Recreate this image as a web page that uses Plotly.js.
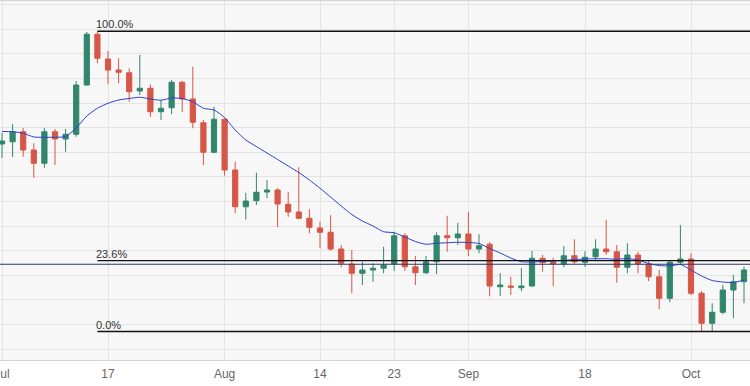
<!DOCTYPE html>
<html>
<head>
<meta charset="utf-8">
<script src="https://cdn.plot.ly/plotly-3.0.1.min.js"></script>
<style>html,body{margin:0;padding:0;background:#fff;}#chart{width:750px;height:386px;}</style>
</head>
<body>
<div id="chart"></div>
<script>
var dates = [
 "2023-07-03","2023-07-04","2023-07-05","2023-07-06","2023-07-07","2023-07-10","2023-07-11","2023-07-12","2023-07-13","2023-07-14",
 "2023-07-17","2023-07-18","2023-07-19","2023-07-20","2023-07-21","2023-07-24","2023-07-25","2023-07-26","2023-07-27","2023-07-28",
 "2023-07-31","2023-08-01","2023-08-02","2023-08-03","2023-08-04","2023-08-07","2023-08-08","2023-08-09","2023-08-10","2023-08-11",
 "2023-08-14","2023-08-15","2023-08-16","2023-08-17","2023-08-18","2023-08-21","2023-08-22","2023-08-23","2023-08-24","2023-08-25",
 "2023-08-28","2023-08-29","2023-08-30","2023-08-31","2023-09-01","2023-09-04","2023-09-05","2023-09-06","2023-09-07","2023-09-08",
 "2023-09-11","2023-09-12","2023-09-13","2023-09-14","2023-09-15","2023-09-18","2023-09-19","2023-09-20","2023-09-21","2023-09-22",
 "2023-09-25","2023-09-26","2023-09-27","2023-09-28","2023-09-29","2023-10-02","2023-10-03","2023-10-04","2023-10-05","2023-10-06",
 "2023-10-09"
];
var openP = [
 1.2820,1.2829,1.2869,1.2796,1.2743,1.2869,1.2840,1.2859,1.3056,1.3259,
 1.3160,1.3116,1.3105,1.3032,1.3043,1.2949,1.2965,1.3067,1.3000,1.2905,
 1.2787,1.2919,1.2716,1.2569,1.2593,1.2628,1.2636,1.2579,1.2548,1.2523,
 1.2484,1.2467,1.2400,1.2340,1.2303,1.2316,1.2323,1.2340,1.2453,1.2329,
 1.2305,1.2349,1.2453,1.2445,1.2460,1.2400,1.2419,1.2249,1.2252,1.2245,
 1.2252,1.2363,1.2349,1.2340,1.2373,1.2347,1.2369,1.2400,1.2389,1.2327,
 1.2376,1.2339,1.2289,1.2203,1.2347,1.2360,1.2223,1.2103,1.2147,1.2236,
 1.2269
];
var highP = [
 1.2864,1.2900,1.2884,1.2823,1.2885,1.2880,1.2880,1.3072,1.3268,1.3271,
 1.3192,1.3163,1.3123,1.3176,1.3059,1.2996,1.3076,1.3072,1.3129,1.2916,
 1.2969,1.2923,1.2749,1.2625,1.2705,1.2676,1.2643,1.2629,1.2727,1.2559,
 1.2509,1.2535,1.2416,1.2396,1.2349,1.2343,1.2409,1.2469,1.2463,1.2372,
 1.2372,1.2467,1.2533,1.2505,1.2548,1.2459,1.2428,1.2303,1.2289,1.2323,
 1.2392,1.2376,1.2365,1.2412,1.2439,1.2392,1.2439,1.2516,1.2416,1.2423,
 1.2389,1.2356,1.2316,1.2356,1.2496,1.2383,1.2232,1.2183,1.2256,1.2296,
 1.2329
];
var lowP = [
 1.2764,1.2768,1.2769,1.2685,1.2725,1.2736,1.2789,1.2849,1.3054,1.3143,
 1.3059,1.3063,1.2989,1.3016,1.2929,1.2916,1.2939,1.2947,1.2883,1.2736,
 1.2783,1.2693,1.2543,1.2518,1.2576,1.2603,1.2487,1.2529,1.2519,1.2463,
 1.2403,1.2393,1.2327,1.2223,1.2256,1.2269,1.2303,1.2313,1.2313,1.2256,
 1.2300,1.2300,1.2389,1.2416,1.2372,1.2383,1.2211,1.2212,1.2216,1.2232,
 1.2249,1.2309,1.2252,1.2327,1.2340,1.2329,1.2353,1.2376,1.2265,1.2303,
 1.2303,1.2272,1.2159,1.2187,1.2336,1.2216,1.2070,1.2072,1.2139,1.2123,
 1.2183
];
var closeP = [
 1.2832,1.2869,1.2796,1.2743,1.2869,1.2840,1.2859,1.3056,1.3259,1.3163,
 1.3116,1.3107,1.3029,1.3043,1.2949,1.2963,1.3067,1.3000,1.2907,1.2787,
 1.2919,1.2716,1.2569,1.2592,1.2627,1.2636,1.2580,1.2548,1.2523,1.2487,
 1.2467,1.2400,1.2343,1.2303,1.2316,1.2323,1.2336,1.2453,1.2329,1.2305,
 1.2349,1.2453,1.2445,1.2460,1.2400,1.2413,1.2252,1.2256,1.2247,1.2252,
 1.2363,1.2345,1.2340,1.2373,1.2349,1.2367,1.2400,1.2389,1.2327,1.2376,
 1.2340,1.2289,1.2203,1.2347,1.2360,1.2223,1.2103,1.2147,1.2236,1.2269,
 1.2316
];
var movingAvg = [
 1.2870,1.2869,1.2863,1.2848,1.2847,1.2847,1.2850,1.2884,1.2932,1.2963,
 1.2983,1.2996,1.3002,1.3007,1.3000,1.2995,1.3004,1.3002,1.2989,1.2963,
 1.2956,1.2926,1.2876,1.2836,1.2810,1.2784,1.2758,1.2732,1.2706,1.2676,
 1.2643,1.2608,1.2572,1.2538,1.2512,1.2492,1.2469,1.2465,1.2448,1.2430,
 1.2419,1.2423,1.2425,1.2427,1.2426,1.2422,1.2402,1.2384,1.2364,1.2349,
 1.2348,1.2350,1.2352,1.2354,1.2358,1.2360,1.2361,1.2361,1.2359,1.2362,
 1.2356,1.2342,1.2334,1.2332,1.2338,1.2316,1.2292,1.2274,1.2268,1.2266,
 1.2276
];
var tickDates = ["2023-07-03","2023-07-17","2023-08-01","2023-08-14","2023-08-23","2023-09-01","2023-09-18","2023-10-02"];
var tickLabels = ["Jul","17","Aug","14","23","Sep","18","Oct"];
var fibRatios = [1.0, 0.236, 0.0];
var fibLabels = ["100.0%","23.6%","0.0%"];
var refLevel = 1.2339;

var swingHigh = Math.max.apply(null, highP);
var swingLow = Math.min.apply(null, lowP);
var startIdx = highP.indexOf(swingHigh);

var shapes = [];
var annotations = [];
fibRatios.forEach(function(r, k){
  var lvl = swingLow + r * (swingHigh - swingLow);
  shapes.push({type:'line', xref:'x', yref:'y', x0:startIdx, x1:dates.length + 2, y0:lvl, y1:lvl,
    line:{color:'#111111', width:1.4}});
  annotations.push({xref:'x', yref:'y', x:startIdx, y:lvl, text:fibLabels[k], showarrow:false,
    xanchor:'left', yanchor:'bottom', xshift:-3, yshift:-1,
    font:{family:'Liberation Sans, Arial, sans-serif', size:11, color:'#333333'}});
});
shapes.push({type:'line', xref:'paper', yref:'y', x0:0, x1:1, y0:refLevel, y1:refLevel,
  line:{color:'#2a3a66', width:1.2}});

var traces = [
  {type:'candlestick', x:dates, open:openP, high:highP, low:lowP, close:closeP,
   increasing:{line:{color:'#31866c', width:1}, fillcolor:'#31866c'},
   decreasing:{line:{color:'#d65747', width:1}, fillcolor:'#d65747'},
   whiskerwidth:0, hoverinfo:'x+y', showlegend:false},
  {type:'scatter', mode:'lines', x:dates, y:movingAvg, line:{color:'#2a3fd0', width:1, shape:'spline', smoothing:0.6},
   hoverinfo:'skip', showlegend:false}
];

var layout = {
  width:750, height:386,
  margin:{l:0, r:0, t:1, b:26},
  paper_bgcolor:'#ffffff', plot_bgcolor:'#f7f7f7',
  showlegend:false,
  xaxis:{type:'category', range:[-0.189, 70.566], rangeslider:{visible:false},
    tickmode:'array', tickvals:tickDates, ticktext:tickLabels,
    showgrid:true, gridcolor:'#e4e4e4', gridwidth:1,
    showline:true, linecolor:'#d4d4d4', linewidth:1, mirror:true,
    ticks:'', ticklabelstandoff:3, automargin:false,
    tickfont:{family:'Liberation Sans, Arial, sans-serif', size:12, color:'#666666'},
    fixedrange:true},
  yaxis:{range:[1.1956, 1.3392], tick0:1.2, dtick:0.00984, showticklabels:false,
    showgrid:true, gridcolor:'#e4e4e4', gridwidth:1, zeroline:false, showline:false, fixedrange:true},
  shapes:shapes,
  annotations:annotations
};

Plotly.newPlot('chart', traces, layout, {displayModeBar:false, staticPlot:true});
</script>
</body>
</html>
